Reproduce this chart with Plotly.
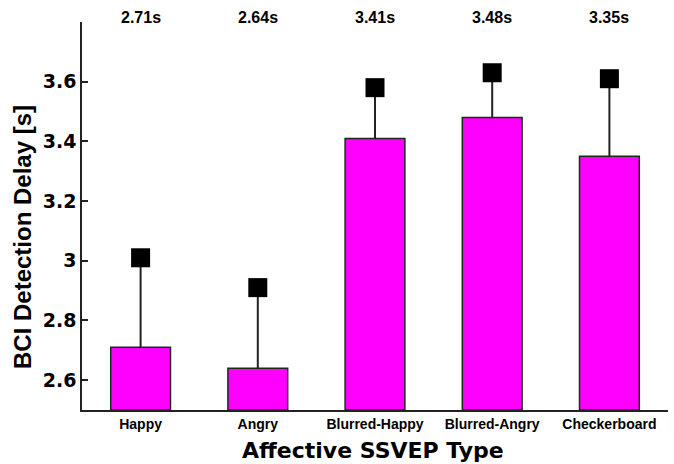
import plotly.graph_objects as go

categories = ["Happy", "Angry", "Blurred-Happy", "Blurred-Angry", "Checkerboard"]
means = [2.71, 2.64, 3.41, 3.48, 3.35]
errors = [0.30, 0.27, 0.17, 0.15, 0.26]
top_labels = ["2.71s", "2.64s", "3.41s", "3.48s", "3.35s"]
tick_vals = [2.6, 2.8, 3.0, 3.2, 3.4, 3.6]
tick_text = ["2.6", "2.8", "3", "3.2", "3.4", "3.6"]

tops = [m + e for m, e in zip(means, errors)]

fig = go.Figure()
# whiskers
for c, m, t in zip(categories, means, tops):
    fig.add_trace(go.Scatter(x=[c, c], y=[m, t], mode="lines",
                             line=dict(color="#222222", width=2),
                             showlegend=False, hoverinfo="skip"))
fig.add_trace(go.Bar(x=categories, y=[m - 2.5 for m in means], base=2.5,
                     marker=dict(color="#ff00ff", line=dict(color="#1a2a1a", width=1.5)),
                     showlegend=False))
fig.add_trace(go.Scatter(x=categories, y=tops, mode="markers",
                         marker=dict(symbol="square", size=19, color="black"),
                         showlegend=False))

for c, lab in zip(categories, top_labels):
    fig.add_annotation(x=c, y=1, xref="x", yref="paper", text=lab, showarrow=False,
                       yanchor="middle", yshift=5,
                       font=dict(family="Arial", size=16, color="black", weight="bold"))

fig.add_annotation(x=0.5, y=0, xref="paper", yref="paper", text="Affective SSVEP Type",
                   showarrow=False, xanchor="center", yanchor="middle", xshift=-2, yshift=-40,
                   font=dict(family="DejaVu Sans", size=22, color="black", weight="bold"))
fig.add_annotation(x=0, y=0.5, xref="paper", yref="paper", text="BCI Detection Delay [s]",
                   showarrow=False, xanchor="center", yanchor="middle", xshift=-60, yshift=-21,
                   textangle=-90,
                   font=dict(family="Arial", size=24, color="black", weight="bold"))

fig.update_layout(
    width=674, height=464,
    margin=dict(l=82, r=6, t=22, b=54),
    paper_bgcolor="white", plot_bgcolor="white",
    bargap=0.49,
    xaxis=dict(showline=True, linecolor="#222222", linewidth=1.5, ticks="",
               automargin=False,
               tickfont=dict(family="Arial", size=14, color="black", weight="bold"),
               showgrid=False),
    yaxis=dict(range=[2.5, 3.8], showline=True, linecolor="#222222", linewidth=1.5,
               automargin=False,
               ticks="inside", ticklen=6, tickwidth=1.5, tickcolor="#222222",
               tickvals=tick_vals, ticktext=tick_text,
               tickfont=dict(family="DejaVu Sans", size=19, color="black", weight="bold"),
               showgrid=False, zeroline=False),
)

fig.write_html("out.html", config={"displayModeBar": False},
               post_script="document.body.style.margin='0';")
